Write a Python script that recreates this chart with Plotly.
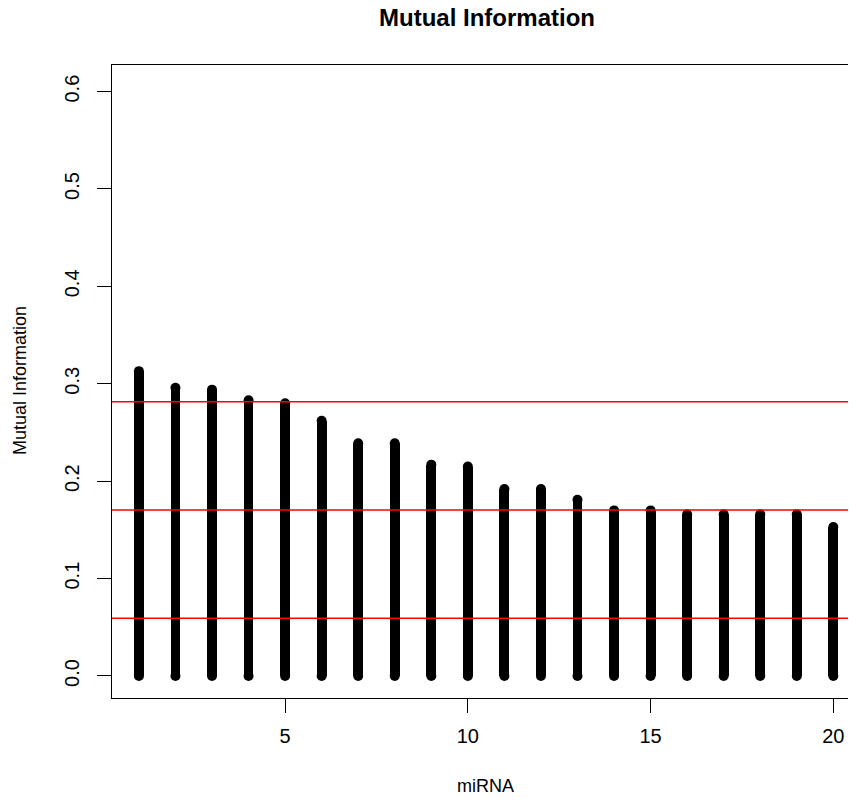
import plotly.graph_objects as go

# Data
mirna_index = list(range(1, 21))
mutual_info = [0.313, 0.296, 0.294, 0.283, 0.280, 0.262, 0.239, 0.239, 0.217, 0.215,
               0.192, 0.192, 0.181, 0.170, 0.170, 0.166, 0.166, 0.166, 0.166, 0.153]
thresholds = [0.2816, 0.1704, 0.0592]
y_ticks = [0.0, 0.1, 0.2, 0.3, 0.4, 0.5, 0.6]
y_tick_text = ["0.0", "0.1", "0.2", "0.3", "0.4", "0.5", "0.6"]
x_ticks = [5, 10, 15, 20]
x_tick_text = ["5", "10", "15", "20"]

FONT = "Liberation Sans, Arial, Helvetica, sans-serif"

# page has an 8px body margin; figure is sized to fit the window exactly
W, H = 848, 795

fig = go.Figure()
fig.add_trace(go.Bar(
    x=mirna_index, y=mutual_info, width=0.27,
    marker=dict(color="black", line=dict(width=0)),
    hoverinfo="x+y", showlegend=False,
))
# round caps at both ends
fig.add_trace(go.Scatter(
    x=mirna_index + mirna_index,
    y=mutual_info + [0.0] * len(mutual_info),
    mode="markers",
    marker=dict(color="black", size=10, symbol="circle"),
    hoverinfo="skip", showlegend=False,
))

for t in thresholds:
    fig.add_shape(type="line", xref="paper", x0=0, x1=1, yref="y", y0=t, y1=t,
                  line=dict(color="red", width=1.5), layer="above")

fig.update_layout(
    width=W, height=H,
    margin=dict(l=104, r=0, t=57, b=105),
    paper_bgcolor="white", plot_bgcolor="white",
    font=dict(family=FONT, color="black"),
    bargap=0,
    title=dict(text="<b>Mutual Information</b>", xref="container", yref="container",
               x=479 / W, y=1 - 1 / H, xanchor="center", yanchor="top",
               font=dict(size=24, family=FONT, color="black")),
    xaxis=dict(range=[0.2636, 20.62], showgrid=False, zeroline=False,
               showline=True, linecolor="black", linewidth=1.3, mirror=True,
               tickmode="array", tickvals=x_ticks, ticktext=x_tick_text,
               ticks="outside", ticklen=14, tickwidth=1.3, tickcolor="black",
               ticklabelstandoff=6,
               tickfont=dict(size=20, family=FONT, color="black")),
    yaxis=dict(range=[-0.0226, 0.6273], showgrid=False, zeroline=False,
               showline=True, linecolor="black", linewidth=1.3, mirror=False,
               tickmode="array", tickvals=y_ticks, ticktext=y_tick_text,
               ticks="outside", ticklen=14, tickwidth=1.3, tickcolor="black",
               tickangle=-90, ticklabelstandoff=10,
               tickfont=dict(size=20, family=FONT, color="black")),
    annotations=[
        dict(text="miRNA", xref="paper", yref="paper", x=(485 - 112) / 744,
             y=(698 - 786) / 633, xanchor="center", yanchor="middle", showarrow=False,
             font=dict(size=18, family=FONT, color="black")),
        dict(text="Mutual Information", xref="paper", yref="paper", x=(20 - 112) / 744,
             y=(698 - 381) / 633, xanchor="center", yanchor="middle", showarrow=False,
             textangle=-90, font=dict(size=18, family=FONT, color="black")),
    ],
)

fig.write_html("out.html")
